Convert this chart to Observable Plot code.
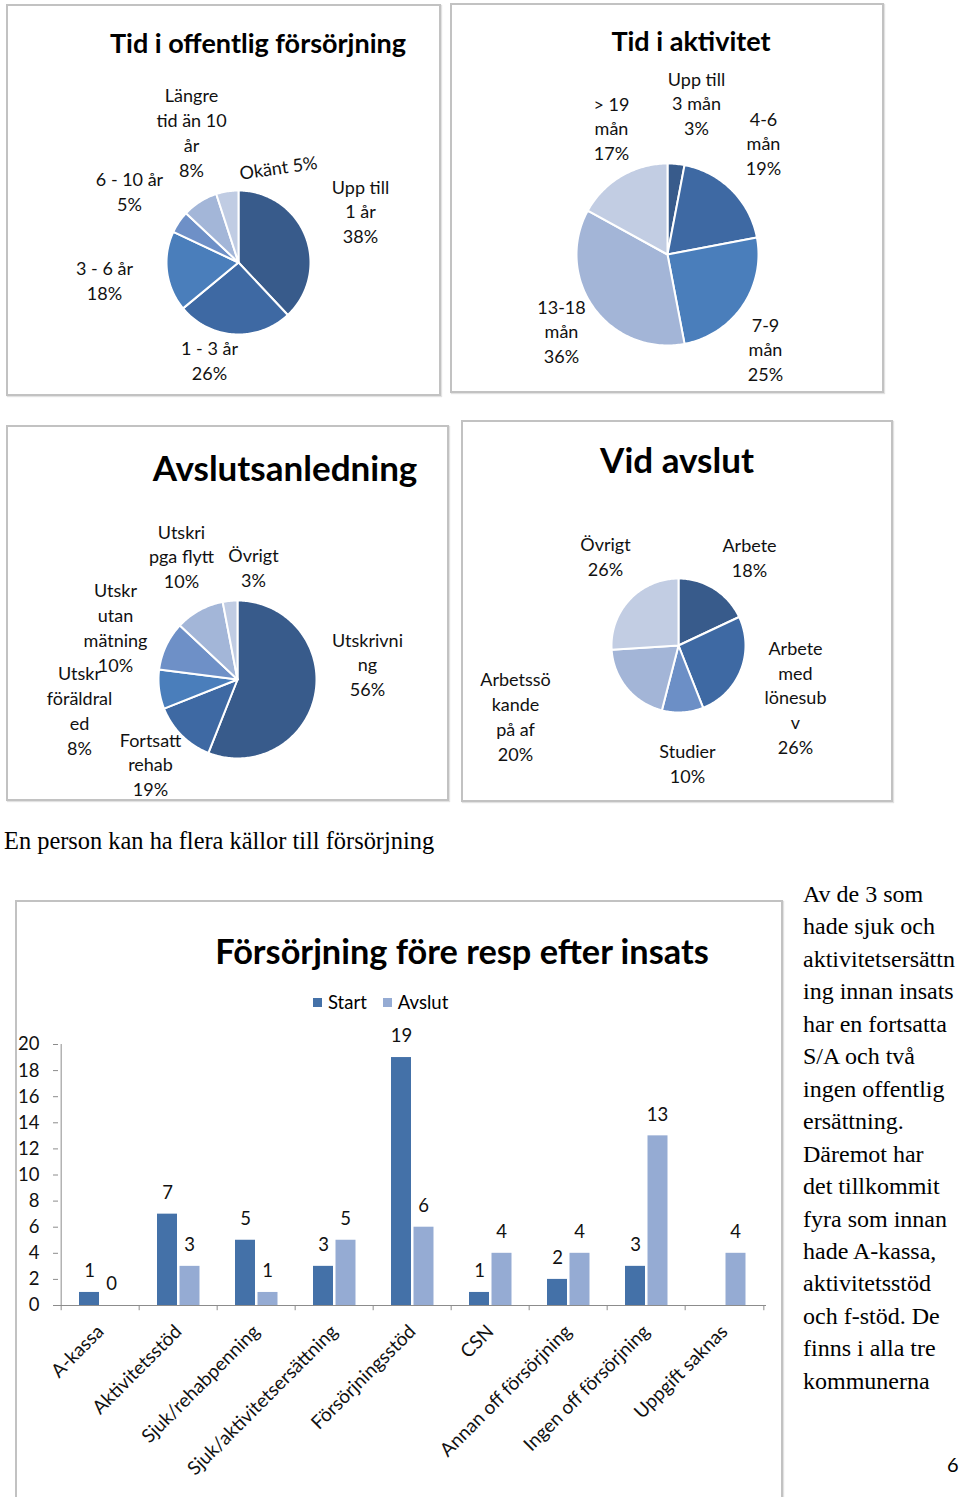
<!DOCTYPE html>
<html><head><meta charset="utf-8">
<script src="https://cdn.jsdelivr.net/npm/d3@7"></script>
<script src="https://cdn.jsdelivr.net/npm/@observablehq/plot@0.6"></script>
<style>
html,body{margin:0;padding:0;background:#fff;}
body{width:960px;height:1497px;position:relative;overflow:hidden;font-family:Lato,"Open Sans",sans-serif;color:#000;}
.box{position:absolute;border:2px solid #c2c2c2;box-sizing:border-box;box-shadow:1px 1px 1px #e2e2e2;}
.abs{position:absolute;white-space:nowrap;}
.ttl{position:absolute;white-space:nowrap;font-weight:bold;transform:translate(-50%,-50%);line-height:1;}
.serif{font-family:"Liberation Serif","Times New Roman",serif;}
svg{position:absolute;overflow:visible;}
</style></head><body>
<div id="root"></div>
<script>
// ---------- DATA ----------
// Tid i offentlig försörjning
const tidOffCats = ["Upp till\n1 år", "1 - 3 år", "3 - 6 år", "6 - 10 år", "Längre\ntid än 10\når", "Okänt"];
const tidOffPct = [38, 26, 18, 5, 8, 5];
// Tid i aktivitet
const tidAktCats = ["Upp till\n3 mån", "4-6\nmån", "7-9\nmån", "13-18\nmån", "> 19\nmån"];
const tidAktPct = [3, 19, 25, 36, 17];
// Avslutsanledning (printed labels and drawn slice shares)
const avslCats = ["Utskrivni\nng", "Fortsatt\nrehab", "Utskr\nföräldral\ned", "Utskr\nutan\nmätning", "Utskri\npga flytt", "Övrigt"];
const avslPct = [56, 19, 8, 10, 10, 3];
const avslShare = [56, 13, 8, 10, 10, 3];
// Vid avslut
const vidCats = ["Arbete", "Arbete\nmed\nlönesub\nv", "Studier", "Arbetssö\nkande\npå af", "Övrigt"];
const vidPct = [18, 26, 10, 20, 26];
// Försörjning före resp efter insats
const barCats = ["A-kassa", "Aktivitetsstöd", "Sjuk/rehabpenning", "Sjuk/aktivitetsersättning", "Försörjningsstöd", "CSN", "Annan off försörjning", "Ingen off försörjning", "Uppgift saknas"];
const startVals = [1, 7, 5, 3, 19, 1, 2, 3, null];
const avslutVals = [0, 3, 1, 5, 6, 4, 4, 13, 4];
const yTicks = [0, 2, 4, 6, 8, 10, 12, 14, 16, 18, 20];
const seriesNames = ["Start", "Avslut"];
const sideText = ["Av de 3 som", "hade sjuk och", "aktivitetsersättn", "ing innan insats", "har en fortsatta", "S/A och två", "ingen offentlig", "ersättning.", "Däremot har", "det tillkommit", "fyra som innan", "hade A-kassa,", "aktivitetsstöd", "och f-stöd. De", "finns i alla tre", "kommunerna"];

// ---------- STYLE / LAYOUT ----------
const FONT = "Lato, 'Open Sans', sans-serif";
const pal6 = ["#385b8b", "#3e69a3", "#4a7ebb", "#6e90c7", "#a3b6d8", "#c0cce3"];
const pal5a = ["#385b8b", "#3e69a3", "#4a7ebb", "#a3b5d7", "#c2cde3"];
const pal5b = ["#385b8b", "#3e69a3", "#6c8fc6", "#a3b5d7", "#c2cde3"];
const barColors = ["#4471a8", "#95abd3"];

const pies = [
  {name: "p1", cats: tidOffCats, pct: tidOffPct, share: tidOffPct, colors: pal6, cx: 238, cy: 262, r: 72,
   lab: [[122, -52], [-29, 97], [-134, 17], [-109, -72], [-47, -131], null]},
  {name: "p2", cats: tidAktCats, pct: tidAktPct, share: tidAktPct, colors: pal5a, cx: 667, cy: 254, r: 91,
   lab: [[29, -152], [96, -112], [98, 94], [-106, 76], [-56, -127]]},
  {name: "p3", cats: avslCats, pct: avslPct, share: avslShare, colors: pal6, cx: 237, cy: 679, r: 79,
   lab: [[130, -16], [-87, 84], [-158, 30], [-122, -53], [-56, -124], [16, -113]]},
  {name: "p4", cats: vidCats, pct: vidPct, share: vidPct, colors: pal5b, cx: 678, cy: 645, r: 67,
   lab: [[71, -89], [117, 51], [9, 117], [-163, 70], [-73, -90]]}
];

const root = document.getElementById("root");
function add(html) { root.insertAdjacentHTML("beforeend", html); }

// panel boxes
[[6, 4, 435, 392], [450, 3, 434, 390], [6, 425, 443, 376], [461, 420, 432, 382], [15, 900, 768, 600]]
  .forEach(([l, t, w, h]) => add(`<div class="box" style="left:${l}px;top:${t}px;width:${w}px;height:${h}px"></div>`));

// titles
add(`<div class="ttl" style="left:258px;top:42px;font-size:27px">Tid i offentlig försörjning</div>`);
add(`<div class="ttl" style="left:691px;top:40px;font-size:27px">Tid i aktivitet</div>`);
add(`<div class="ttl" style="left:285px;top:467px;font-size:35px">Avslutsanledning</div>`);
add(`<div class="ttl" style="left:677px;top:459px;font-size:35px">Vid avslut</div>`);
add(`<div class="ttl" style="left:462px;top:951px;font-size:34.3px">Försörjning före resp efter insats</div>`);
add(`<div class="abs serif" style="left:4px;top:826px;font-size:24.4px;line-height:30px">En person kan ha flera källor till försörjning</div>`);
add(`<div class="abs serif" style="left:803px;top:878px;font-size:24px;line-height:32.45px">${sideText.join("<br>")}</div>`);
add(`<div class="abs" style="left:947px;top:1452px;font-size:20px">6</div>`);
// legend
add(`<div class="abs" style="left:313px;top:991px;font-size:18.5px;line-height:22px;display:flex;align-items:center;gap:6px">
<span style="display:inline-block;width:9px;height:9px;background:${barColors[0]}"></span><span>${seriesNames[0]}</span>
<span style="display:inline-block;width:9px;height:9px;background:${barColors[1]};margin-left:10px"></span><span>${seriesNames[1]}</span></div>`);

// ---------- PIES ----------
const slicePts = [], rims = [], labels = [];
pies.forEach(p => {
  const arcs = d3.pie().sort(null).value(d => d)(p.share);
  arcs.forEach((a, i) => {
    const key = p.name + "-" + i, c = p.colors[i];
    slicePts.push({key, c, x: p.cx, y: p.cy});
    const n = Math.max(2, Math.ceil((a.endAngle - a.startAngle) / (Math.PI / 180)));
    for (let k = 0; k <= n; k++) {
      const t = a.startAngle + (a.endAngle - a.startAngle) * k / n;
      slicePts.push({key, c, x: p.cx + p.r * Math.sin(t), y: p.cy - p.r * Math.cos(t)});
    }
    slicePts.push({key, c, x: p.cx, y: p.cy});
    if (p.lab[i]) labels.push({x: p.cx + p.lab[i][0], y: p.cy + p.lab[i][1], text: p.cats[i] + "\n" + p.pct[i] + "%"});
  });
  rims.push({x: p.cx, y: p.cy, r: p.r + 1.5});
});
const okant = [{x: pies[0].cx + 40, y: pies[0].cy - 94, text: tidOffCats[5] + " " + tidOffPct[5] + "%"}];

const pieSvg = Plot.plot({
  width: 960, height: 820, margin: 0,
  x: {type: "identity", axis: null}, y: {type: "identity", axis: null},
  color: {type: "identity"},
  style: {background: "transparent", fontFamily: FONT},
  marks: [
    Plot.dot(rims, {x: "x", y: "y", r: "r", stroke: "#c8c8c8", strokeWidth: 2.5, fill: "white"}),
    Plot.line(slicePts, {x: "x", y: "y", z: "key", fill: "c", stroke: "white", strokeWidth: 2, strokeLinejoin: "round", curve: "linear"}),
    Plot.text(labels, {x: "x", y: "y", text: "text", fontSize: 18, lineHeight: 1.38, fill: "#111"}),
    Plot.text(okant, {x: "x", y: "y", text: "text", fontSize: 18, rotate: -8, fill: "#111"})
  ]
});
pieSvg.style.left = "0px"; pieSvg.style.top = "0px";
root.appendChild(pieSvg);

// ---------- BARS ----------
const barData = barCats.map((c, i) => ({cat: c, start: startVals[i], avslut: avslutVals[i]}));
const W = 768, H = 600, mL = 43, mR = 17, mT = 144, mB = 195;
const step = (W - mL - mR) / barCats.length;
const barSvg = Plot.plot({
  width: W, height: H, marginLeft: mL, marginRight: mR, marginTop: mT, marginBottom: mB,
  x: {domain: barCats, padding: 0, axis: null},
  y: {domain: [0, 20], axis: null},
  style: {background: "transparent", fontFamily: FONT, fontSize: "18px"},
  marks: [
    Plot.ruleX([barCats[0]], {y1: 0, y2: 20, dx: -step / 2, stroke: "#8c8c8c"}),
    Plot.ruleX(barCats, {y1: 0, y2: -0.4, dx: -step / 2, stroke: "#8c8c8c"}),
    Plot.ruleX([barCats[barCats.length - 1]], {y1: 0, y2: -0.4, dx: step / 2, stroke: "#8c8c8c"}),
    Plot.axisY({ticks: yTicks, tickSize: 5, tickPadding: 14, fontSize: 18.5, stroke: "#8c8c8c", fill: "#111", tickFormat: d => d}),
    Plot.barY(barData.filter(d => d.start != null), {x: "cat", y: "start", fill: barColors[0], insetLeft: 18, insetRight: 40}),
    Plot.barY(barData, {x: "cat", y: "avslut", fill: barColors[1], insetLeft: 40.5, insetRight: 17.5}),
    Plot.ruleY([0], {stroke: "#8c8c8c"}),
    Plot.text(barData.filter(d => d.start != null), {x: "cat", y: "start", text: d => String(d.start), dx: -11, dy: -21, fontSize: 18.5, fill: "#111"}),
    Plot.text(barData, {x: "cat", y: "avslut", text: d => String(d.avslut), dx: 11, dy: -21, fontSize: 18.5, fill: "#111"}),
    Plot.text(barCats, {x: d => d, y: 0, text: d => d, rotate: -45, textAnchor: "end", dx: 0, dy: 23, fontSize: 19, fill: "#111"})
  ]
});
barSvg.style.left = "15px"; barSvg.style.top = "900px";
root.appendChild(barSvg);
</script>
</body></html>
